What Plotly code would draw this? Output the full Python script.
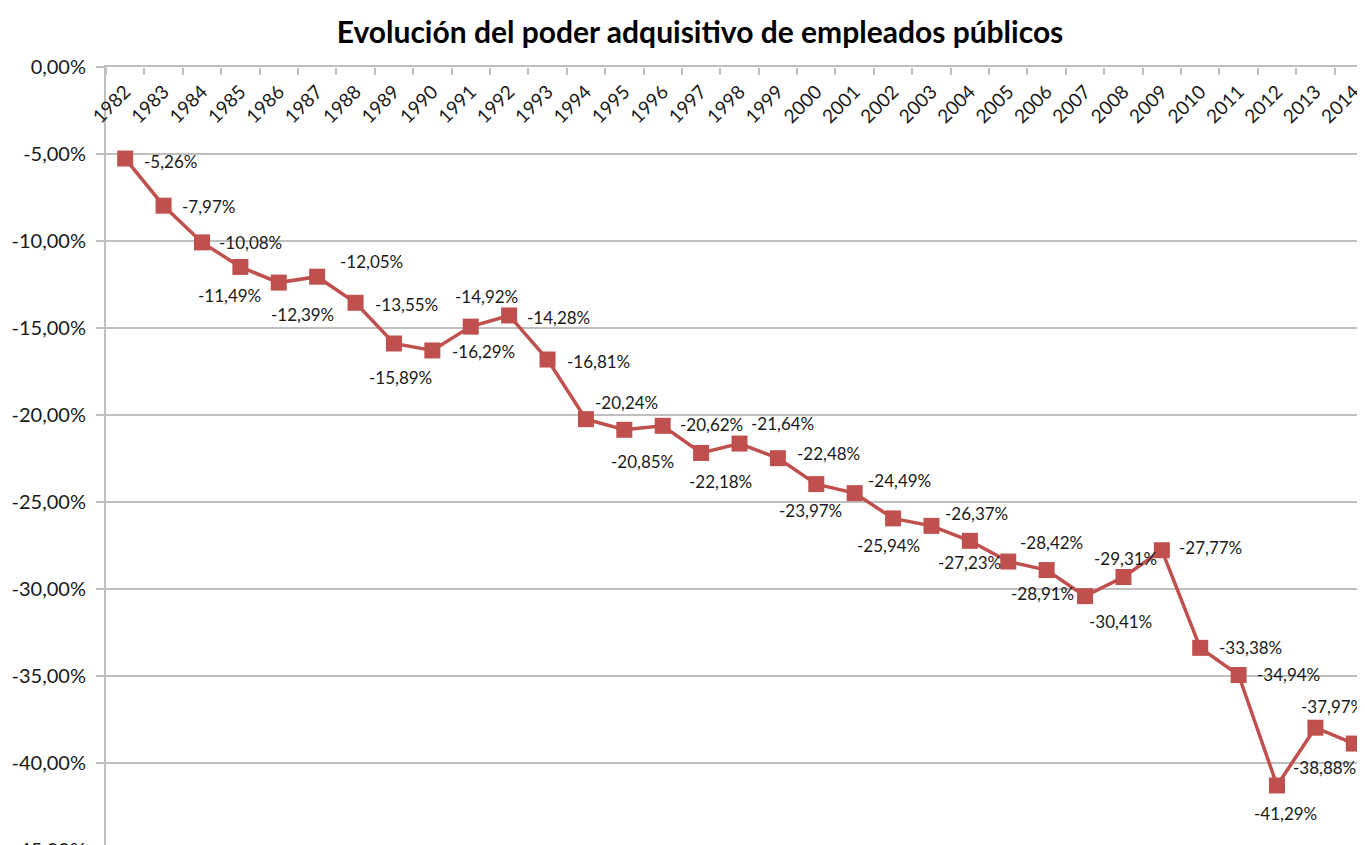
import plotly.graph_objects as go

years = [str(y) for y in range(1982, 2015)]
values = [-5.26, -7.97, -10.08, -11.49, -12.39, -12.05, -13.55, -15.89, -16.29, -14.92,
          -14.28, -16.81, -20.24, -20.85, -20.62, -22.18, -21.64, -22.48, -23.97, -24.49,
          -25.94, -26.37, -27.23, -28.42, -28.91, -30.41, -29.31, -27.77, -33.38, -34.94,
          -41.29, -37.97, -38.88]
# data-label offsets (pixels, label centre relative to the point; +dy = down)
label_dx = [45, 45, 49, -11, 24, 54, 51, 7, 51, 16, 49, 51, 41, 18, 49, 19, 43, 51, -6, 45,
            -5, 45, 0, 43, -4, 35, 2, 49, 50, 50, 8, 17, -29]
label_dy = [3, 1, 0, 29, 32, -15, 2, 34, 1, -30, 2, 2, -17, 32, -1, 29, -20, -5, 26, -13,
            27, -12, 22, -19, 23, 25, -19, -3, 0, 0, 28, -21, 24]
y_ticks = [0, -5, -10, -15, -20, -25, -30, -35, -40, -45]

labels = [f"{v:.2f}".replace(".", ",") + "%" for v in values]
y_ticktext = [f"{t:.2f}".replace(".", ",") + "%" for t in y_ticks]

RED = "#C0504D"
GRID = "#BFBFBF"
FONT = "Lato"

fig = go.Figure()
# invisible carrier for the top category axis (year labels under the axis line)
fig.add_trace(go.Scatter(
    x=years, y=values, xaxis="x2", yaxis="y", mode="markers",
    marker=dict(opacity=0), hoverinfo="skip", showlegend=False,
))
fig.add_trace(go.Scatter(
    x=years, y=values, mode="lines+markers",
    line=dict(color=RED, width=3.5),
    marker=dict(symbol="square", size=16, color=RED),
    cliponaxis=False, hoverinfo="x+y",
))

for i, (v, txt, dx, dy) in enumerate(zip(values, labels, label_dx, label_dy)):
    fig.add_annotation(x=i, y=v, xref="x", yref="y", text=txt, showarrow=False,
                       xanchor="center", yanchor="middle", xshift=dx, yshift=-dy,
                       font=dict(family=FONT, size=17, color="#1a1a1a"))

fig.update_layout(
    width=1365, height=845,
    margin=dict(l=98, r=0, t=59, b=0, autoexpand=False),
    paper_bgcolor="white", plot_bgcolor="white",
    showlegend=False,
    title=dict(text="<b>Evolución del poder adquisitivo de empleados públicos</b>",
               x=692 / 1365, xref="container", xanchor="center",
               y=1 - 24 / 845, yref="container", yanchor="middle",
               font=dict(family=FONT, size=30, color="#000000")),
    xaxis=dict(type="category", range=[-0.5, 32.5], anchor="y", side="top",
               showline=True, linecolor=GRID, linewidth=2, ticks="",
               showticklabels=False, showgrid=False, automargin=False),
    xaxis2=dict(type="category", range=[-0.5, 32.5], overlaying="x", anchor="free",
                position=1, side="bottom", showline=False,
                ticks="outside", tickson="boundaries", ticklen=7, tickcolor=GRID, tickwidth=1.5,
                tickangle=-45, showgrid=False, automargin=False, ticklabelstandoff=9,
                tickfont=dict(family=FONT, size=19, color="#1a1a1a")),
    yaxis=dict(range=[-45.17, 0], tickvals=y_ticks, ticktext=y_ticktext,
               showgrid=True, gridcolor=GRID, gridwidth=1.5, zeroline=False,
               showline=True, linecolor=GRID, linewidth=2,
               ticks="outside", ticklen=8, tickcolor=GRID, tickwidth=1.5,
               automargin=False, ticklabelstandoff=6, ticklabeloverflow="allow",
               tickfont=dict(family=FONT, size=20, color="#1a1a1a")),
)

fig.write_html("out.html")
